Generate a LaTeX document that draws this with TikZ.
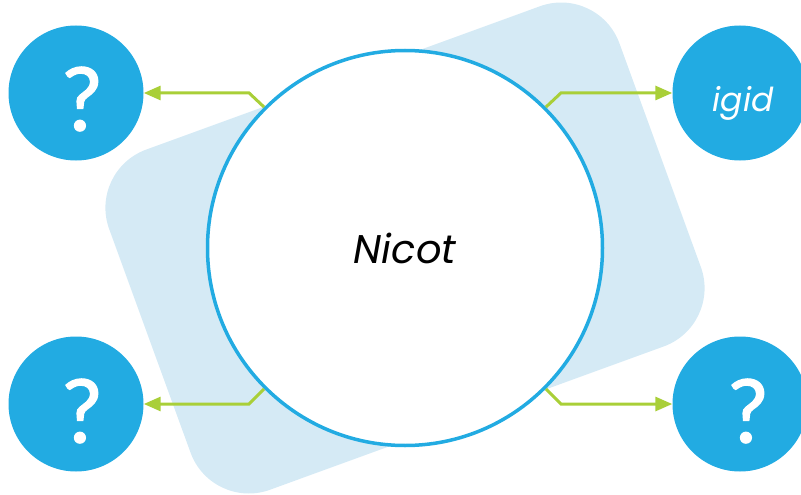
\documentclass[tikz,border=0pt]{standalone}
\usepackage{fontspec}
\newfontfamily\pop{Poppins}
\newfontfamily\latoq[FakeBold=1.3]{Lato}
\usetikzlibrary{arrows.meta}
\definecolor{cblue}{HTML}{22ABE2}
\definecolor{bgblue}{HTML}{D5EAF5}
\definecolor{cgreen}{HTML}{A9CF38}
\tikzset{
  side/.style={circle, fill=cblue, minimum size=135pt, inner sep=0pt, text=white},
  qtext/.style={text=white, inner sep=0pt, font=\latoq\fontsize{88}{88}\selectfont},
  conn/.style={draw=cgreen, line width=3pt, -{Triangle[length=17pt,width=14pt]}},
}
\begin{document}
\begin{tikzpicture}[x=1pt,y=-1pt]
\useasboundingbox (0,0) rectangle (801,495);
\node[rectangle, rounded corners=62pt, fill=bgblue, minimum width=543pt, minimum height=362pt, rotate=20, inner sep=0pt] (bg) at (405,248) {};
\node[circle, draw=cblue, line width=3.5pt, fill=white, minimum size=395pt, inner sep=0pt, font=\pop\itshape\fontsize{40}{40}\selectfont] (c) at (405,248) {Nicot};
\node[side] (q1) at (76,93) {};
\node[side] (q2) at (740,93) {};
\node[side] (q3) at (76,404) {};
\node[side] (q4) at (740,404) {};
\node[qtext] (t1) at (82,99) {?};
\node[text=white, inner sep=0pt, font=\pop\itshape\fontsize{33}{33}\selectfont] (t2) at (743,103) {igid};
\node[qtext] (t3) at (82,411) {?};
\node[qtext] (t4) at (748,411) {?};
\draw[conn] (c.135) -- ([xshift=-15pt]q1 -| c.135) -- (q1);
\draw[conn] (c.45) -- ([xshift=15pt]q2 -| c.45) -- (q2);
\draw[conn] (c.225) -- ([xshift=-15pt]q3 -| c.225) -- (q3);
\draw[conn] (c.315) -- ([xshift=15pt]q4 -| c.315) -- (q4);
\end{tikzpicture}
\end{document}
